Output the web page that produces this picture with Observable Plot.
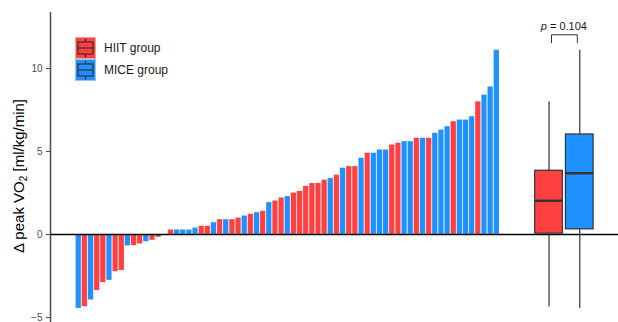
<!DOCTYPE html>
<html><head><meta charset="utf-8">
<script src="https://cdn.jsdelivr.net/npm/d3@7"></script>
<script src="https://cdn.jsdelivr.net/npm/@observablehq/plot@0.6"></script>
<style>
body{margin:0;background:#fff;font-family:"Liberation Sans",Arial,sans-serif;overflow:hidden}
#wrap{position:relative;width:618px;height:322px}
.ylab{position:absolute;left:18px;top:176px;transform:translate(-50%,-50%) rotate(-90deg);white-space:nowrap;font-size:15px;color:#000}
.ylab sub{font-size:10px;vertical-align:-3px;line-height:0}
.leg{position:absolute;left:75px;font-size:12px;color:#1a1a1a}
.leg div{display:flex;align-items:center;height:22px}
.leg svg{margin-right:8px}
.pval{position:absolute;font-size:11px;color:#1a1a1a;white-space:nowrap;transform:translate(-50%,-50%)}
</style></head><body><div id="wrap"></div>
<script>
// Sorted change in peak VO2 per participant (waterfall)
const values = [-4.46,-4.36,-3.96,-3.38,-2.9,-2.77,-2.25,-2.17,-0.7,-0.68,-0.58,-0.44,-0.36,-0.18,0,
 0.28,0.28,0.28,0.28,0.4,0.5,0.5,0.72,0.9,0.9,0.9,1.0,1.12,1.22,1.32,1.4,
 1.93,2.03,2.21,2.29,2.5,2.6,2.9,3.08,3.08,3.28,3.38,3.58,4.0,4.1,4.1,4.6,
 4.9,4.9,5.1,5.1,5.4,5.5,5.6,5.6,5.8,5.8,5.8,6.1,6.3,6.5,6.8,6.9,6.9,7.1,8.0,8.4,8.9,11.1];
const groups = ["MICE","HIIT","MICE","HIIT","HIIT","MICE","HIIT","HIIT","MICE","HIIT","HIIT","MICE","HIIT","HIIT","MICE",
 "HIIT","MICE","MICE","MICE","MICE","HIIT","HIIT","MICE","HIIT","MICE","HIIT","HIIT","MICE","HIIT","MICE","HIIT",
 "MICE","HIIT","HIIT","MICE","HIIT","HIIT","HIIT","HIIT","HIIT","HIIT","MICE","HIIT","MICE","HIIT","HIIT","MICE",
 "HIIT","MICE","MICE","MICE","HIIT","HIIT","MICE","MICE","HIIT","MICE","HIIT","MICE","MICE","MICE","HIIT","MICE","MICE","MICE","HIIT","MICE","MICE","MICE"];
const groupNames = ["HIIT","MICE"];
const groupLabels = ["HIIT group","MICE group"];
const groupColors = ["#FF4040","#1E90FF"];
const boxCenters = [76.5, 81.5];
const boxHalf = 2.25;
const yTicks = [-5,0,5,10];
const pValue = "0.104";
const bracketY = 12.03, bracketDrop = 0.48, bracketInset = 0.4, pLabelY = 12.5;
const xDomain = [-4.59, 87.8];
const yDomain = [-5.3, 13.37];

const rows = values.map((v,i)=>({i, v, g: groups[i]}));
const boxes = groupNames.map((g,k)=>{
  const vs = rows.filter(r=>r.g===g).map(r=>r.v).sort(d3.ascending);
  return {g, c: boxCenters[k], min: d3.min(vs), q1: d3.quantile(vs,.25), med: d3.quantile(vs,.5), q3: d3.quantile(vs,.75), max: d3.max(vs)};
});
const bx1 = boxCenters[0] + bracketInset, bx2 = boxCenters[1] - bracketInset;
const bracket = [{x:bx1,y:bracketY-bracketDrop},{x:bx1,y:bracketY},{x:bx2,y:bracketY},{x:bx2,y:bracketY-bracketDrop}];

const chart = Plot.plot({
  width: 618, height: 322, marginLeft: 50, marginRight: 0, marginTop: 12, marginBottom: 0,
  x: {domain: xDomain, axis: null},
  y: {domain: yDomain},
  color: {domain: groupNames, range: groupColors},
  style: {fontFamily: "'Liberation Sans', Arial, sans-serif", background: "white", overflow: "visible"},
  marks: [
    Plot.axisY({ticks: yTicks, tickSize: 4, tickPadding: 4, fontSize: 10, color: "#4d4d4d", label: null}),
    Plot.ruleX([xDomain[0]], {stroke: "#4d4d4d", strokeWidth: 1.5}),
    Plot.rect(rows, {x1: d=>d.i-0.45, x2: d=>d.i+0.45, y1: 0, y2: "v", fill: "g", stroke: "white", strokeWidth: 0.5, strokeOpacity: 0.5}),
    Plot.ruleY([0], {stroke: "#000", strokeWidth: 1.3}),
    Plot.ruleX(boxes, {x: "c", y1: "min", y2: "q1", stroke: "#333", strokeWidth: 1.2}),
    Plot.ruleX(boxes, {x: "c", y1: "q3", y2: "max", stroke: "#333", strokeWidth: 1.2}),
    Plot.rect(boxes, {x1: d=>d.c-boxHalf, x2: d=>d.c+boxHalf, y1: "q1", y2: "q3", fill: "g", stroke: "#333", strokeWidth: 1.2}),
    Plot.ruleY(boxes, {y: "med", x1: d=>d.c-boxHalf, x2: d=>d.c+boxHalf, stroke: "#333", strokeWidth: 2.4}),
    Plot.line(bracket, {x: "x", y: "y", stroke: "#333", strokeWidth: 1})
  ]
});
const wrap = document.getElementById("wrap");
wrap.appendChild(chart);

const yl = document.createElement("div");
yl.className = "ylab";
yl.innerHTML = "Δ peak VO<sub>2</sub> [ml/kg/min]";
wrap.appendChild(yl);

const leg = document.createElement("div");
leg.className = "leg"; leg.style.top = "37px";
groupLabels.forEach((lab,k)=>{
  const row = document.createElement("div");
  row.innerHTML = `<svg width="21" height="22" viewBox="0 0 21 22"><rect x="0" y="0" width="21" height="22" fill="${groupColors[k]}"/><rect x="0.5" y="0.5" width="20" height="21" fill="none" stroke="#fff" stroke-opacity="0.5"/><line x1="10.5" y1="2" x2="10.5" y2="20.5" stroke="#333" stroke-width="1.2"/><rect x="3" y="5" width="15" height="12" fill="${groupColors[k]}" stroke="#333" stroke-width="1.2"/><line x1="3" y1="11" x2="18" y2="11" stroke="#333" stroke-width="1.2"/></svg><span>${lab}</span>`;
  leg.appendChild(row);
});
wrap.appendChild(leg);

const xs = chart.scale("x"), ys = chart.scale("y");
const pv = document.createElement("div");
pv.className = "pval";
pv.innerHTML = `<i>p</i> = ${pValue}`;
pv.style.left = xs.apply((boxCenters[0]+boxCenters[1])/2) + "px";
pv.style.top = ys.apply(pLabelY) + "px";
wrap.appendChild(pv);
</script></body></html>
